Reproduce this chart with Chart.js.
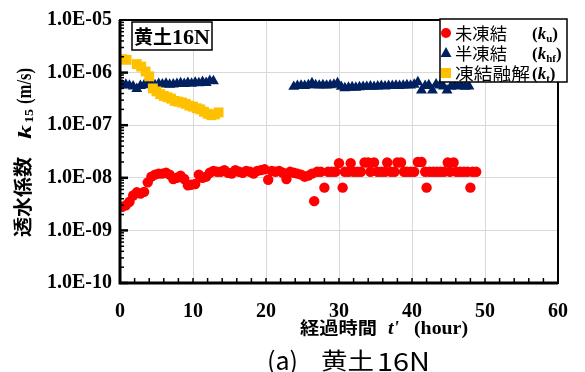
<!DOCTYPE html>
<html><head><meta charset="utf-8">
<script src="https://cdn.jsdelivr.net/npm/chart.js@4.4.0/dist/chart.umd.min.js"></script>
<style>html,body{margin:0;padding:0;background:#fff;}#wrap{width:585px;height:372px;}</style>
</head><body><div id="wrap"><canvas id="c" width="585" height="372"></canvas></div>
<script>
// ---- data ----
const uHours = [
0.3,0.8,1.3,1.8,2.3,2.8,3.3,3.8,4.3,4.8,
5.3,5.8,6.3,6.8,7.3,7.8,8.3,8.8,9.3,9.8,
10.3,10.8,11.3,11.8,12.3,12.8,13.3,13.8,14.3,14.8,
15.3,15.8,16.3,16.8,17.3,17.8,18.3,18.8,19.3,19.8,
20.3,20.8,21.3,21.8,22.3,22.8,23.3,23.8,24.3,24.8,
25.3,25.8,26.3,26.6,27.0,27.5,28.0,28.5,29.0,29.5,
30.0,30.5,30.8,31.3,31.6,32.0,32.5,33.0,33.5,34.0,
34.3,34.8,35.3,35.8,36.3,36.6,37.1,37.6,38.0,38.5,
38.9,39.3,39.8,40.3,40.8,41.3,41.8,42.0,42.4,42.9,
43.4,43.9,44.4,44.9,45.2,45.7,46.1,46.6,47.1,47.6,
48.0,48.3,48.8];
const uValues = [
2.8e-9,3.0e-9,3.5e-9,4.6e-9,5.3e-9,5.0e-9,5.4e-9,8.2e-9,1.05e-8,1.15e-8,
1.2e-8,1.2e-8,1.25e-8,1.15e-8,9.5e-9,1.0e-8,1.1e-8,9.5e-9,7.2e-9,7.4e-9,
7.6e-9,1.15e-8,1.0e-8,1.05e-8,1.25e-8,1.35e-8,1.3e-8,1.3e-8,1.4e-8,1.25e-8,
1.2e-8,1.4e-8,1.3e-8,1.25e-8,1.35e-8,1.3e-8,1.2e-8,1.35e-8,1.4e-8,1.45e-8,
9.2e-9,1.35e-8,1.3e-8,1.35e-8,1.25e-8,9.5e-9,1.3e-8,1.25e-8,1.2e-8,1.15e-8,
1.05e-8,1.1e-8,1.2e-8,3.6e-9,1.3e-8,1.3e-8,6.5e-9,1.3e-8,1.3e-8,1.3e-8,
1.9e-8,6.5e-9,1.3e-8,1.3e-8,1.9e-8,1.3e-8,1.3e-8,1.3e-8,1.95e-8,1.95e-8,
1.3e-8,1.95e-8,1.3e-8,1.3e-8,1.3e-8,1.95e-8,1.3e-8,1.3e-8,1.95e-8,1.95e-8,
1.3e-8,1.3e-8,1.3e-8,1.3e-8,2.0e-8,2.0e-8,1.3e-8,6.5e-9,1.3e-8,1.3e-8,
1.3e-8,1.3e-8,1.3e-8,1.95e-8,1.3e-8,1.95e-8,1.3e-8,1.3e-8,1.3e-8,1.3e-8,
6.5e-9,1.3e-8,1.3e-8];

const hfHours = [
0.3,0.8,1.3,1.8,2.3,2.8,3.3,3.8,4.3,4.8,
5.3,5.8,6.3,6.8,7.3,7.8,8.3,8.8,9.3,9.8,
10.3,10.8,11.3,11.8,12.3,12.8,
23.8,24.3,24.8,25.3,25.8,26.3,26.8,27.3,27.8,28.3,
28.8,29.3,29.8,30.3,30.8,31.3,31.8,32.3,32.8,33.3,
33.8,34.3,34.8,35.3,35.8,36.3,36.8,37.3,37.8,38.3,
38.8,39.3,39.8,40.3,40.8,41.3,41.8,42.3,42.8,43.3,
43.8,44.3,44.8,45.3,45.8,46.3,46.8,47.3,47.8];
const hfValues = [
5.8e-7,5.9e-7,5.7e-7,5.5e-7,4.9e-7,5.6e-7,5.8e-7,6.0e-7,6.0e-7,5.8e-7,
6.1e-7,6.0e-7,6.2e-7,5.9e-7,6.0e-7,6.1e-7,6.3e-7,6.1e-7,6.4e-7,6.2e-7,
6.5e-7,6.3e-7,6.7e-7,6.4e-7,7.0e-7,6.9e-7,
5.4e-7,5.6e-7,5.7e-7,5.6e-7,5.8e-7,6.3e-7,5.8e-7,5.7e-7,5.8e-7,5.7e-7,
5.8e-7,5.9e-7,6.3e-7,5.4e-7,5.1e-7,5.2e-7,5.3e-7,5.2e-7,5.3e-7,5.4e-7,
5.4e-7,5.5e-7,5.4e-7,5.5e-7,5.6e-7,5.5e-7,5.6e-7,5.6e-7,5.7e-7,5.6e-7,
5.7e-7,5.8e-7,5.7e-7,5.9e-7,6.6e-7,4.6e-7,5.6e-7,5.8e-7,4.6e-7,6.0e-7,
5.7e-7,5.5e-7,4.6e-7,5.4e-7,5.6e-7,5.5e-7,5.6e-7,5.4e-7,5.5e-7];

const tHours = [0.3,0.9,2.3,2.9,3.5,4.0,4.5,5.0,5.5,6.0,6.5,7.0,7.5,8.0,8.5,9.0,9.5,10.0,10.5,11.0,11.5,12.0,12.5,13.0,13.5];
const tValues = [1.8e-6,1.75e-6,1.45e-6,1.3e-6,1.05e-6,8.5e-7,5.0e-7,4.4e-7,3.9e-7,3.6e-7,3.4e-7,3.2e-7,2.9e-7,2.8e-7,2.7e-7,2.55e-7,2.35e-7,2.25e-7,2.1e-7,2.0e-7,1.8e-7,1.65e-7,1.55e-7,1.6e-7,1.75e-7];

const seriesNames = ['未凍結', '半凍結', '凍結融解'];
const seriesSubs = ['u', 'hf', 't'];
const seriesColors = ['#ff0000', '#002060', '#ffc000'];
const seriesStyles = ['circle', 'triangle', 'rect'];

const yTickValues = [1e-10, 1e-9, 1e-8, 1e-7, 1e-6, 1e-5];
const yTickLabels = ['1.0E-10', '1.0E-09', '1.0E-08', '1.0E-07', '1.0E-06', '1.0E-05'];
const xTickLabels = ['0', '10', '20', '30', '40', '50', '60'];
const xTitleCJK = '経過時間';
const yTitleCJK = '透水係数';
const panelLabel = '黄土';
const panelCode = '16N';
const captionText = ['(a)', '黄土', '16N'];

const toPts = (xs, ys) => xs.map((x, i) => ({x: x, y: ys[i]}));

const SERIF = '"Liberation Serif", "Times New Roman", serif';
const CJK = '"Noto Sans CJK JP", "Noto Sans CJK SC", sans-serif';

function fitText(ctx, text, x, y, w, font, base) {
  ctx.save();
  ctx.font = font;
  ctx.textAlign = 'left';
  ctx.textBaseline = base || 'alphabetic';
  const m = ctx.measureText(text).width;
  ctx.translate(x, y);
  ctx.scale(w / m, 1);
  ctx.fillText(text, 0, 0);
  ctx.restore();
}

function marker(ctx, style, x, y, color) {
  ctx.save();
  ctx.fillStyle = color;
  ctx.beginPath();
  if (style === 'circle') ctx.arc(x, y, 5, 0, Math.PI * 2);
  else if (style === 'triangle') { ctx.moveTo(x, y - 6); ctx.lineTo(x + 5.5, y + 4); ctx.lineTo(x - 5.5, y + 4); ctx.closePath(); }
  else ctx.rect(x - 5, y - 5, 10, 10);
  ctx.fill();
  ctx.restore();
}

const decor = {
  id: 'decor',
  afterDatasetsDraw(chart) {
    const ctx = chart.ctx, ca = chart.chartArea, xs = chart.scales.x, ys = chart.scales.y;
    ctx.save();
    ctx.strokeStyle = '#000';
    for (let d = -10; d < -5; d++) {
      for (let m = 1; m < 10; m++) {
        const py = ys.getPixelForValue(m * Math.pow(10, d));
        ctx.lineWidth = m === 1 ? 2.5 : 1.5;
        ctx.beginPath();
        ctx.moveTo(ca.left, py);
        ctx.lineTo(ca.left + (m === 1 ? 8 : 4), py);
        ctx.stroke();
      }
    }
    for (let t = 2; t < 60; t += 2) {
      const px = xs.getPixelForValue(t);
      ctx.lineWidth = 1.5;
      ctx.beginPath();
      ctx.moveTo(px, ca.bottom);
      ctx.lineTo(px, ca.bottom - 5);
      ctx.stroke();
    }
    ctx.lineWidth = 2;
    ctx.strokeRect(ca.left, ca.top, ca.right - ca.left, ca.bottom - ca.top);
    ctx.lineWidth = 3;
    ctx.beginPath();
    ctx.moveTo(ca.left, ca.top);
    ctx.lineTo(ca.left, ca.bottom);
    ctx.lineTo(ca.right, ca.bottom);
    ctx.stroke();
    ctx.restore();
  },
  afterDraw(chart) {
    const ctx = chart.ctx;
    ctx.save();
    // panel label box
    ctx.fillStyle = '#fff';
    ctx.fillRect(132, 22, 80, 28);
    ctx.strokeStyle = '#000';
    ctx.lineWidth = 1.5;
    ctx.strokeRect(132, 22, 80, 28);
    ctx.fillStyle = '#000';
    fitText(ctx, panelLabel, 134, 37, 38, 'bold 19px ' + CJK, 'middle');
    fitText(ctx, panelCode, 172, 44, 38, 'bold 20px ' + SERIF);

    // legend
    ctx.fillStyle = '#fff';
    ctx.fillRect(440, 19, 127, 63);
    ctx.lineWidth = 1.5;
    ctx.strokeRect(440, 19, 127, 63);
    const rows = [33, 53, 73];
    const nameW = [52, 52, 75];
    for (let i = 0; i < 3; i++) {
      const y = rows[i];
      marker(ctx, seriesStyles[i], 446, y, seriesColors[i]);
      ctx.fillStyle = '#000';
      fitText(ctx, seriesNames[i], 455, y + 1, nameW[i], '17px ' + CJK, 'middle');
      ctx.font = 'bold 17px ' + SERIF;
      ctx.textBaseline = 'alphabetic';
      ctx.textAlign = 'left';
      let x = 532;
      ctx.fillText('(', x, y + 6); x += ctx.measureText('(').width;
      ctx.font = 'italic bold 17px ' + SERIF;
      ctx.fillText('k', x, y + 6); x += ctx.measureText('k').width;
      ctx.font = 'bold 11px ' + SERIF;
      ctx.fillText(seriesSubs[i], x, y + 9); x += ctx.measureText(seriesSubs[i]).width;
      ctx.font = 'bold 17px ' + SERIF;
      ctx.fillText(')', x, y + 6);
    }

    // x title
    ctx.fillStyle = '#000';
    fitText(ctx, xTitleCJK, 300, 328, 77, 'bold 17px ' + CJK, 'middle');
    fitText(ctx, "t'", 388, 334, 11, 'italic bold 18px ' + SERIF);
    fitText(ctx, '(hour)', 414, 334, 54, 'bold 19px ' + SERIF);

    // y title (rotated)
    ctx.save();
    ctx.translate(23, 237);
    ctx.rotate(-Math.PI / 2);
    fitText(ctx, yTitleCJK, 0, 0, 80, 'bold 19px ' + CJK, 'middle');
    fitText(ctx, 'k', 98, 8, 14, 'italic bold 19px ' + SERIF);
    fitText(ctx, '15', 114, 10, 14, 'bold 13px ' + SERIF);
    fitText(ctx, '(m/s)', 133, 8, 36, 'bold 21px ' + SERIF);
    ctx.restore();

    // caption
    fitText(ctx, captionText[0], 267, 360, 31, '25px ' + CJK, 'middle');
    fitText(ctx, captionText[1], 321, 360, 53, '23px ' + CJK, 'middle');
    fitText(ctx, captionText[2], 377, 361, 53, '25px ' + CJK, 'middle');
    ctx.restore();
  }
};

new Chart(document.getElementById('c'), {
  type: 'scatter',
  data: {
    datasets: [
      {label: seriesNames[0], data: toPts(uHours, uValues), pointStyle: seriesStyles[0], pointRadius: 5.2, pointBackgroundColor: seriesColors[0], pointBorderWidth: 0, order: 2},
      {label: seriesNames[1], data: toPts(hfHours, hfValues), pointStyle: seriesStyles[1], pointRadius: 6.3, pointBackgroundColor: seriesColors[1], pointBorderWidth: 0, order: 1},
      {label: seriesNames[2], data: toPts(tHours, tValues), pointStyle: seriesStyles[2], pointRadius: 7, pointBackgroundColor: seriesColors[2], pointBorderWidth: 0, order: 0}
    ]
  },
  options: {
    responsive: false,
    animation: false,
    devicePixelRatio: 1,
    layout: {padding: {left: 0, top: 19, right: 12, bottom: 0}},
    plugins: {legend: {display: false}, tooltip: {enabled: false}},
    scales: {
      x: {
        type: 'linear', min: 0, max: 60,
        ticks: {stepSize: 10, color: '#000', padding: 17, font: {family: SERIF, size: 20, weight: 'bold'},
                callback: (v, i) => xTickLabels[i]},
        grid: {color: '#d9d9d9', lineWidth: 1, drawTicks: false},
        border: {display: false},
        afterFit: s => { s.height = 89; }
      },
      y: {
        type: 'logarithmic', min: 1e-10, max: 1e-5,
        afterBuildTicks: s => { s.ticks = yTickValues.map(v => ({value: v, major: true})); },
        ticks: {color: '#000', padding: 8, font: {family: SERIF, size: 20, weight: 'bold'},
                callback: (v, i) => yTickLabels[i], autoSkip: false},
        grid: {color: '#d9d9d9', lineWidth: 1, drawTicks: false},
        border: {display: false},
        afterFit: s => { s.width = 120; }
      }
    }
  },
  plugins: [decor]
});
</script></body></html>
